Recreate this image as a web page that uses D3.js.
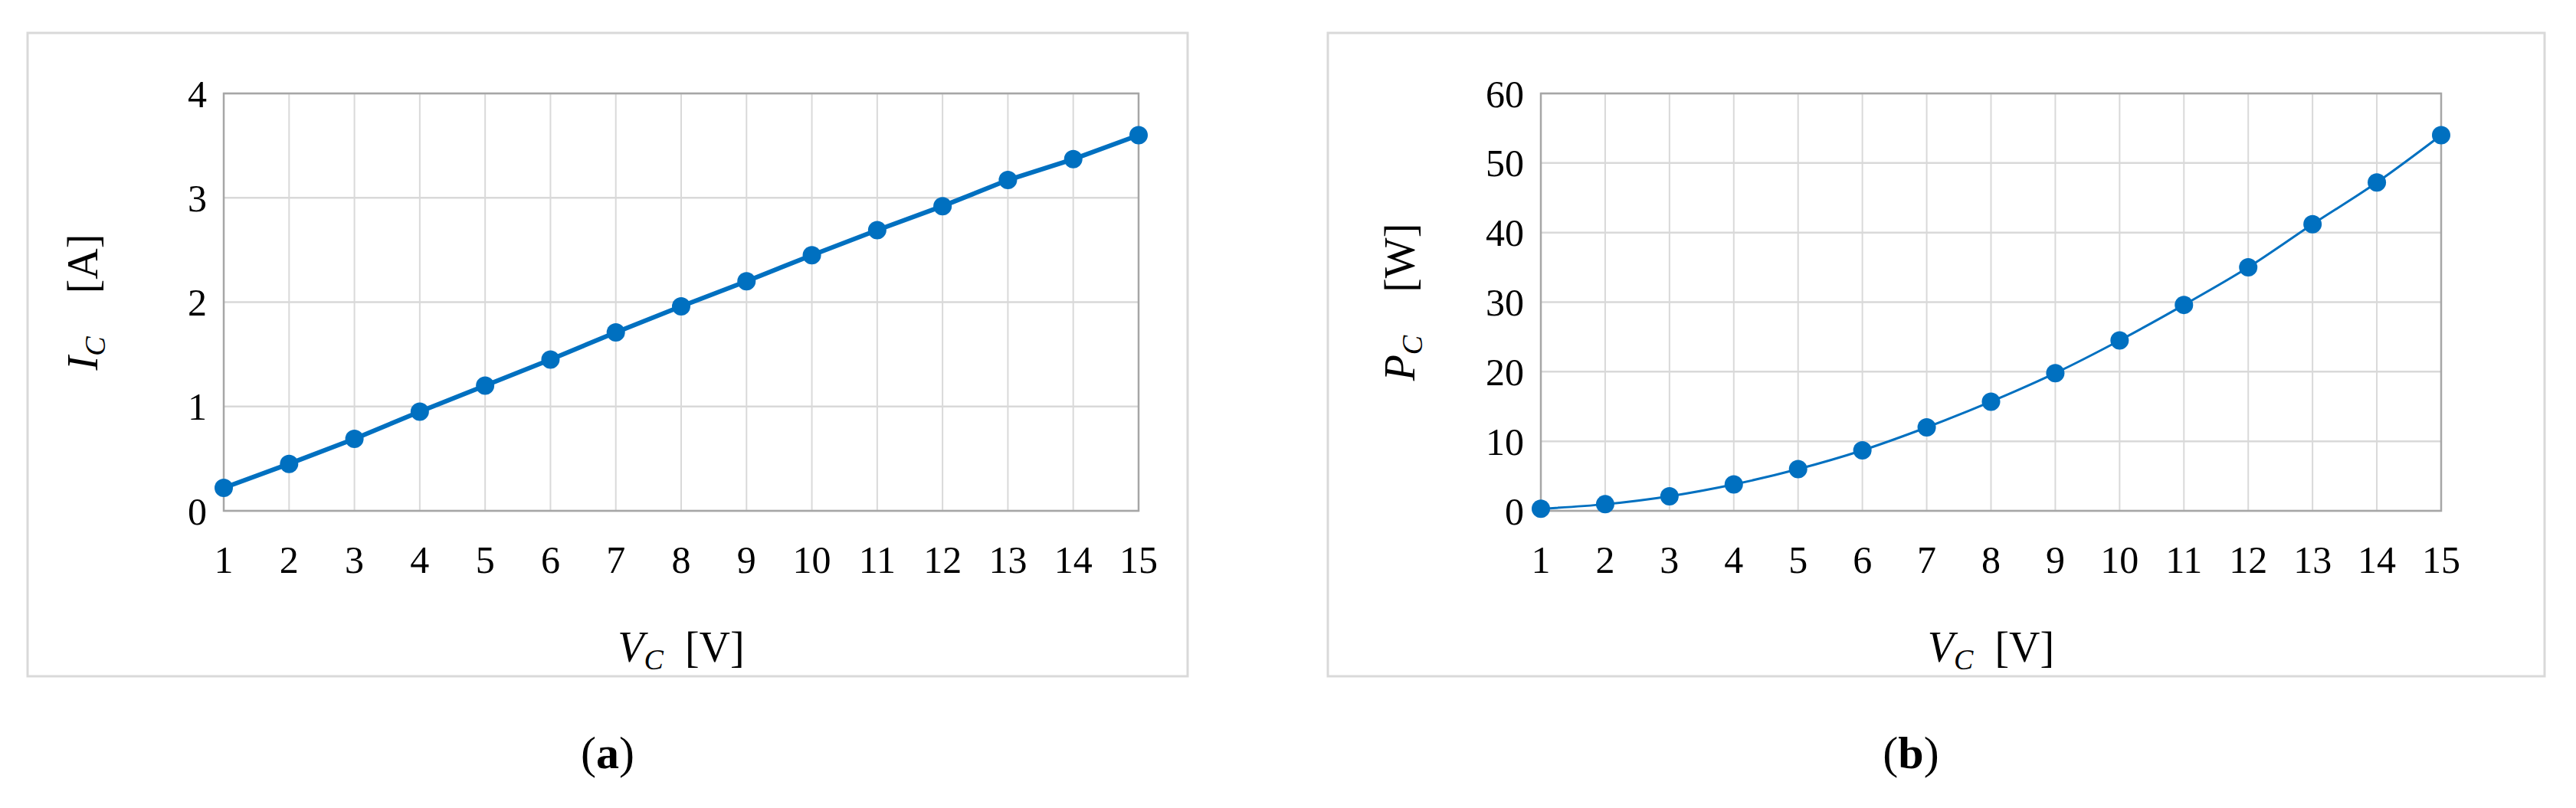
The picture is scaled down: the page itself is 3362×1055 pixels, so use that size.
<!DOCTYPE html>
<html><head><meta charset="utf-8">
<script src="https://cdn.jsdelivr.net/npm/d3@7"></script>
<style>body{margin:0;background:#fff}svg{display:block}text{font-family:"Liberation Serif","Times New Roman",serif;fill:#000}</style>
</head><body>
<svg id="c" width="3362" height="1055"></svg>
<script>
const voltages = [1,2,3,4,5,6,7,8,9,10,11,12,13,14,15];
const currentA = [0.22,0.45,0.69,0.95,1.2,1.45,1.71,1.96,2.2,2.45,2.69,2.92,3.17,3.37,3.6];
const powerW = [0.3,0.95,2.1,3.8,6.0,8.7,12.0,15.7,19.8,24.5,29.6,35.0,41.2,47.2,54.0];
const ticksA = [0,1,2,3,4];
const ticksB = [0,10,20,30,40,50,60];

const svg = d3.select("#c");
const blue = "#0070C0";

function panel(cfg){
  const g = svg.append("g");
  g.append("rect").attr("x",cfg.fx0).attr("y",43).attr("width",cfg.fx1-cfg.fx0).attr("height",840)
    .attr("fill","#fff").attr("stroke","#d9d9d9").attr("stroke-width",3);
  const x = d3.scaleLinear().domain([1,15]).range([cfg.px0,cfg.px1]);
  const y = d3.scaleLinear().domain([0,cfg.ymax]).range([667,122]);
  g.selectAll(".vg").data(voltages).enter().append("line")
    .attr("x1",d=>x(d)).attr("x2",d=>x(d)).attr("y1",122).attr("y2",667)
    .attr("stroke","#d9d9d9").attr("stroke-width",2);
  g.selectAll(".hg").data(cfg.ticks).enter().append("line")
    .attr("x1",cfg.px0).attr("x2",cfg.px1).attr("y1",d=>y(d)).attr("y2",d=>y(d))
    .attr("stroke","#d9d9d9").attr("stroke-width",2.5);
  g.append("rect").attr("x",cfg.px0).attr("y",122).attr("width",cfg.px1-cfg.px0).attr("height",545)
    .attr("fill","none").attr("stroke","#a6a6a6").attr("stroke-width",2.5);
  g.selectAll(".yt").data(cfg.ticks).enter().append("text")
    .attr("x",cfg.px0-22).attr("y",d=>y(d)).attr("dy","0.35em").attr("text-anchor","end")
    .attr("font-size",50).text(d=>d);
  g.selectAll(".xt").data(voltages).enter().append("text")
    .attr("x",d=>x(d)).attr("y",748).attr("text-anchor","middle")
    .attr("font-size",50).text(d=>d);
  const line = d3.line().x((d,i)=>x(voltages[i])).y(d=>y(d)).curve(cfg.curve);
  g.append("path").datum(cfg.values).attr("d",line).attr("fill","none")
    .attr("stroke",blue).attr("stroke-width",cfg.lw);
  g.selectAll(".pt").data(cfg.values).enter().append("circle")
    .attr("cx",(d,i)=>x(voltages[i])).attr("cy",d=>y(d)).attr("r",12).attr("fill",blue);
  const xt = g.append("text").attr("x",(cfg.px0+cfg.px1)/2).attr("y",864).attr("text-anchor","middle").attr("font-size",56);
  xt.append("tspan").attr("font-style","italic").text("V");
  xt.append("tspan").attr("font-style","italic").attr("font-size",38).attr("dy",10).text("C");
  xt.append("tspan").attr("dy",-10).text("\u2002[V]");
  const yt = g.append("text").attr("transform",`translate(${cfg.px0-165},${(122+667)/2}) rotate(-90)`)
    .attr("text-anchor","middle").attr("font-size",56);
  yt.append("tspan").attr("font-style","italic").text(cfg.ysym);
  yt.append("tspan").attr("font-style","italic").attr("font-size",38).attr("dy",10).text("C");
  yt.append("tspan").attr("dy",-10).text("\u2003" + cfg.yunit);
  const cap = g.append("text").attr("x",cfg.capx).attr("y",1003).attr("text-anchor","middle").attr("font-size",60);
  cap.append("tspan").text("(");
  cap.append("tspan").attr("font-weight","bold").text(cfg.cap);
  cap.append("tspan").text(")");
}

panel({fx0:36,fx1:1550,px0:292,px1:1486,ymax:4,ticks:ticksA,values:currentA,lw:6,curve:d3.curveLinear,
  ysym:"I",yunit:"[A]",cap:"a",capx:793});
panel({fx0:1733,fx1:3321,px0:2011,px1:3186,ymax:60,ticks:ticksB,values:powerW,lw:3,curve:d3.curveMonotoneX,
  ysym:"P",yunit:"[W]",cap:"b",capx:2494});
</script>
</body></html>
